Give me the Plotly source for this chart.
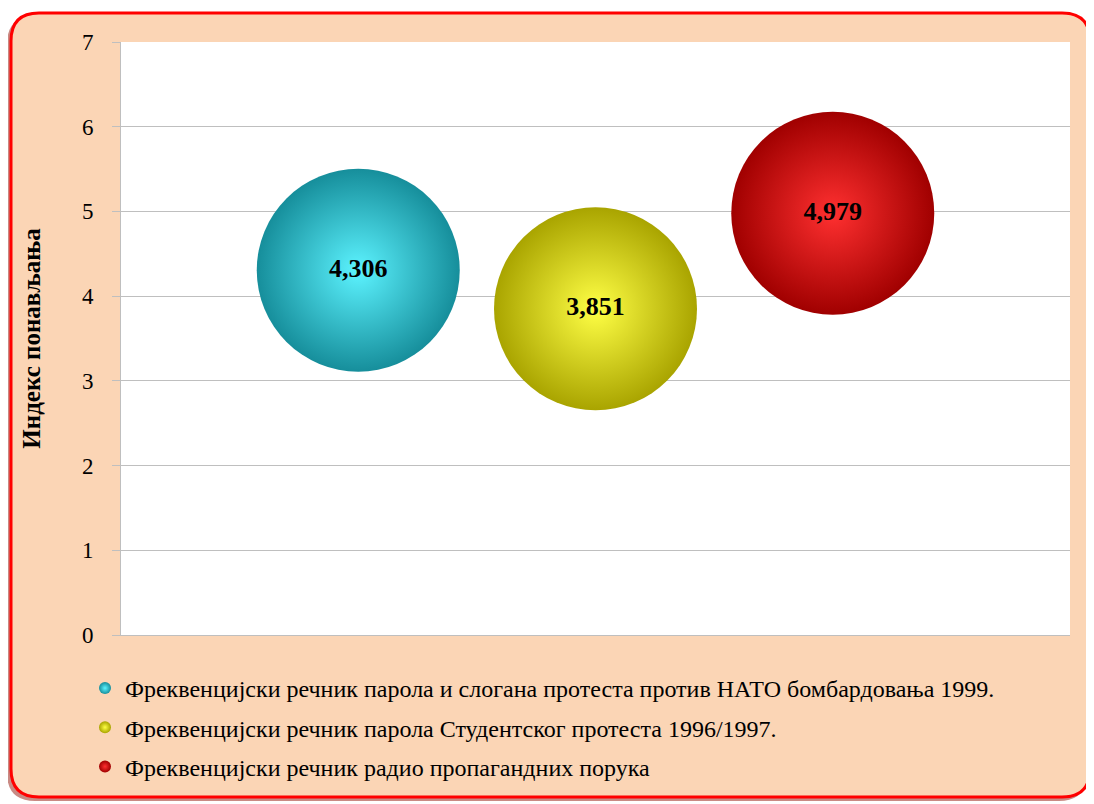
import plotly.graph_objects as go

# data
series_names = [
    "Фреквенцијски речник парола и слогана протеста против НАТО бомбардовања 1999.",
    "Фреквенцијски речник парола Студентског протеста 1996/1997.",
    "Фреквенцијски речник радио пропагандних порука",
]
x_pos = [1, 2, 3]
index_values = [4.306, 3.851, 4.979]
y_ticks = [0, 1, 2, 3, 4, 5, 6, 7]

highlight_colors = ["#5CF3FF", "#FFFF45", "#FF3030"]
edge_colors = ["#168E9B", "#A9A400", "#A00000"]

# the page body has an 8px margin, so the figure is drawn 8px in
OFF = 8
W, H = 1094 - OFF, 804 - OFF
font_serif = "Liberation Serif"


def px_x(x):
    return (x - OFF) / W


def px_y(y):
    return 1 - (y - OFF) / H


fig = go.Figure()

for name, x, y, c, e in zip(series_names, x_pos, index_values, highlight_colors, edge_colors):
    fig.add_trace(go.Scatter(
        x=[x], y=[y],
        mode="markers+text",
        name=name,
        legendgroup=name,
        marker=dict(size=203, sizemode="diameter", color=e, opacity=1,
                    line=dict(width=0),
                    gradient=dict(type="radial", color=c)),
        text=[y],
        texttemplate="<b>%{y:.3f}</b>",
        textposition="middle center",
        textfont=dict(family=font_serif, size=26, color="black"),
    ))

# plot area in reference pixels
x0, x1 = px_x(121), px_x(1070)
y0, y1 = px_y(635), px_y(42)


def rounded_rect(l, t, r, b, rad):
    rx, ry = rad / W, rad / H
    L, R = px_x(l), px_x(r)
    T, B = px_y(t), px_y(b)
    return (f"M {L+rx},{T} L {R-rx},{T} Q {R},{T} {R},{T-ry} "
            f"L {R},{B+ry} Q {R},{B} {R-rx},{B} L {L+rx},{B} "
            f"Q {L},{B} {L},{B+ry} L {L},{T-ry} Q {L},{T} {L+rx},{T} Z")


shapes = [
    # shadow
    dict(type="path", xref="paper", yref="paper", layer="below",
         path=rounded_rect(7, 16, 1087, 801, 28),
         fillcolor="#C98A84", line=dict(width=0)),
    # peach panel with red rounded border
    dict(type="path", xref="paper", yref="paper", layer="below",
         path=rounded_rect(11, 13, 1090, 797, 28),
         fillcolor="#FBD5B5", line=dict(color="#FF0000", width=3)),
    # white plot area
    dict(type="rect", xref="paper", yref="paper", layer="below",
         x0=x0, x1=x1, y0=y0, y1=y1,
         fillcolor="white", line=dict(width=0)),
]

fig.update_layout(
    width=W, height=H,
    margin=dict(l=0, r=0, t=0, b=0, autoexpand=False),
    paper_bgcolor="white",
    plot_bgcolor="white",
    separators=",.",
    font=dict(family=font_serif, color="black"),
    shapes=shapes,
    xaxis=dict(domain=[x0, x1], range=[0, 4], showgrid=False, zeroline=False,
               showticklabels=False, ticks="", showline=True,
               linecolor="#BFBFBF", linewidth=1),
    yaxis=dict(domain=[y0, y1], range=[0, 7], tickvals=y_ticks,
               showgrid=True, gridcolor="#BFBFBF", gridwidth=1,
               zeroline=False, showline=True, linecolor="#BFBFBF", linewidth=1,
               ticks="outside", ticklen=8, tickcolor="#BFBFBF",
               tickfont=dict(family=font_serif, size=23, color="black"),
               ticklabelstandoff=14,
               title=dict(text="<b>Индекс понављања</b>", standoff=34,
                          font=dict(family=font_serif, size=25, color="black"))),
    showlegend=True,
    legend=dict(x=px_x(85), y=px_y(666), xanchor="left", yanchor="top",
                bgcolor="rgba(0,0,0,0)", itemsizing="constant",
                tracegroupgap=5,
                font=dict(family=font_serif, size=24, color="black")),
)

fig.write_html("out.html")
